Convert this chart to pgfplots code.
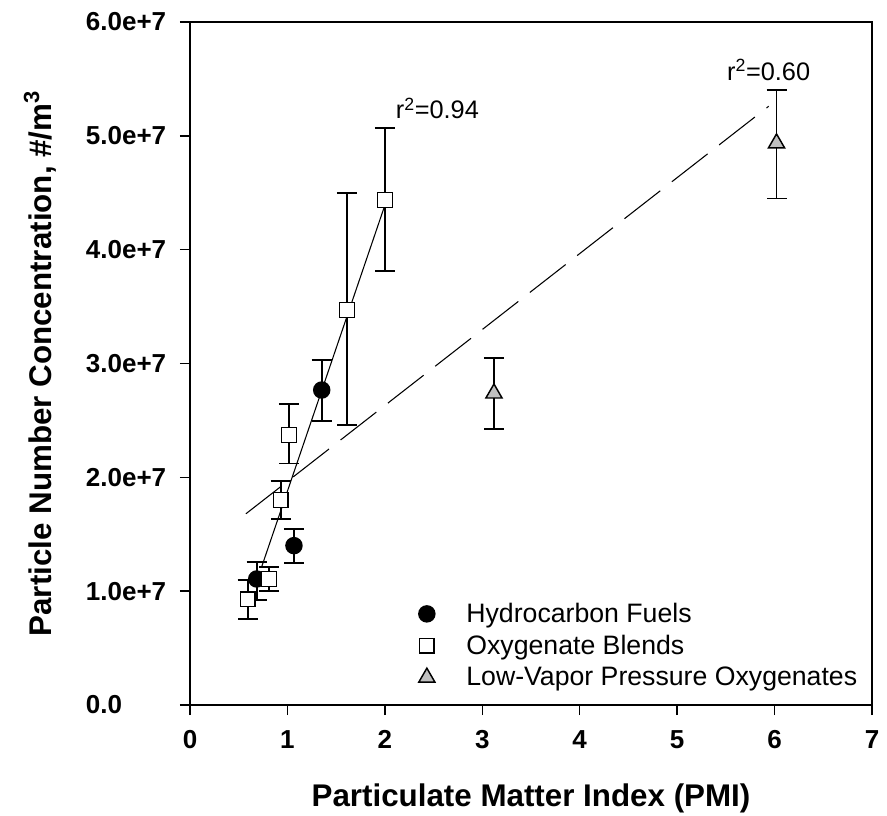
\documentclass[border=0pt]{standalone}
\usepackage{fontspec}
\setmainfont{Liberation Sans}
\usepackage{pgfplots}
\pgfplotsset{compat=1.18}
\definecolor{trigray}{RGB}{192,192,192}
\begin{document}
\begin{tikzpicture}
\useasboundingbox (-142.5pt,-82.5pt) rectangle (522.75pt,528.75pt);
\begin{axis}[
  at={(0pt,0pt)}, anchor=south west,
  scale only axis, width=511.5pt, height=512.25pt,
  xmin=0, xmax=7, ymin=0, ymax=6e7,
  axis line style={line width=1.1pt},
  xtick={0,1,2,3,4,5,6,7}, xticklabels={0,1,2,3,4,5,6,7},
  ytick={0,1e7,2e7,3e7,4e7,5e7,6e7},
  yticklabels={0.0,1.0e+7,2.0e+7,3.0e+7,4.0e+7,5.0e+7,6.0e+7},
  scaled y ticks=false,
  tick align=outside, xtick pos=bottom, ytick pos=left,
  major tick length=7.5pt,
  tick style={line width=1.1pt, black},
  ticklabel style={font=\fontsize{19.5}{22}\selectfont\bfseries},
  yticklabel style={xshift=-6pt, text width=61pt, align=left},
  xticklabel style={yshift=-8pt},
  xlabel={Particulate Matter Index (PMI)},
  ylabel={Particle Number Concentration, \#/m\textsuperscript{3}},
  label style={font=\fontsize{23.5}{26}\selectfont\bfseries},
  xlabel style={at={(axis description cs:0.5,-0.137)}, anchor=center},
  ylabel style={at={(axis description cs:-0.22,0.5)}, anchor=center},
  clip=false,
  legend style={draw=none, fill=none, at={(axis cs:2.31,0.92e7)}, anchor=north west,
    font=\fontsize{20}{24}\selectfont, row sep=4pt, inner sep=0pt},
  legend cell align=left,
  legend image code/.code={\path (-8pt,0pt) (27pt,0pt); \draw[#1] plot coordinates {(0pt,0pt)};},
]
% regression lines
\addplot[forget plot, black, line width=0.8pt] coordinates {(0.736,1.215e7) (2.0,4.39e7)};
\addplot[forget plot, black, line width=0.8pt, dash pattern=on 34pt off 11pt] coordinates {(0.574,1.68e7) (5.94,5.26e7)};

\addplot[only marks, mark=*, mark size=6pt, black, line width=1.3pt, mark options={fill=black, line width=1.1pt},
  error bars/.cd, y dir=both, y explicit,
  error bar style={line width=1.3pt, black},
  error mark options={rotate=90, mark size=7.5pt, line width=1.3pt, black}]
coordinates {
 (0.685,1.107e7) += (0,0.152e7) -= (0,0.187e7)
 (1.067,1.400e7) += (0,0.146e7) -= (0,0.150e7)
 (1.352,2.767e7) += (0,0.263e7) -= (0,0.272e7)
};
\addlegendentry{Hydrocarbon Fuels}

\addplot[only marks, mark=square*, mark size=5.5pt, black, line width=1.3pt, mark options={fill=white, line width=1.1pt},
  error bars/.cd, y dir=both, y explicit,
  error bar style={line width=1.3pt, black},
  error mark options={rotate=90, mark size=7.5pt, line width=1.3pt, black}]
coordinates {
 (0.592,0.929e7) += (0,0.169e7) -= (0,0.171e7)
 (0.811,1.107e7) += (0,0.108e7) -= (0,0.106e7)
 (0.931,1.801e7) += (0,0.169e7) -= (0,0.167e7)
 (1.016,2.372e7) += (0,0.272e7) -= (0,0.251e7)
 (1.611,3.470e7) += (0,1.028e7) -= (0,1.010e7)
 (2.001,4.436e7) += (0,0.633e7) -= (0,0.623e7)
};
\addlegendentry{Oxygenate Blends}

\addplot[only marks, mark=triangle*, mark size=7pt, black, line width=1.3pt, mark options={fill=trigray, line width=1.1pt},
  error bars/.cd, y dir=both, y explicit,
  error bar style={line width=1.3pt, black},
  error mark options={rotate=90, mark size=7.5pt, line width=1.3pt, black}]
coordinates {
 (3.12,2.738e7) += (0,0.313e7) -= (0,0.316e7)
 (6.02,4.935e7) += (0,0.465e7) -= (0,0.485e7)
};
\addlegendentry{Low-Vapor Pressure Oxygenates}

\node[anchor=base west, font=\fontsize{19}{22}\selectfont, inner sep=0pt] at (axis cs:2.11,5.15e7) {r\textsuperscript{2}=0.94};
\node[anchor=base west, font=\fontsize{19}{22}\selectfont, inner sep=0pt] at (axis cs:5.51,5.49e7) {r\textsuperscript{2}=0.60};
\draw[line width=1.1pt, line cap=rect] (rel axis cs:0,1) -- (rel axis cs:1,1) -- (rel axis cs:1,0);
\end{axis}
\end{tikzpicture}
\end{document}
